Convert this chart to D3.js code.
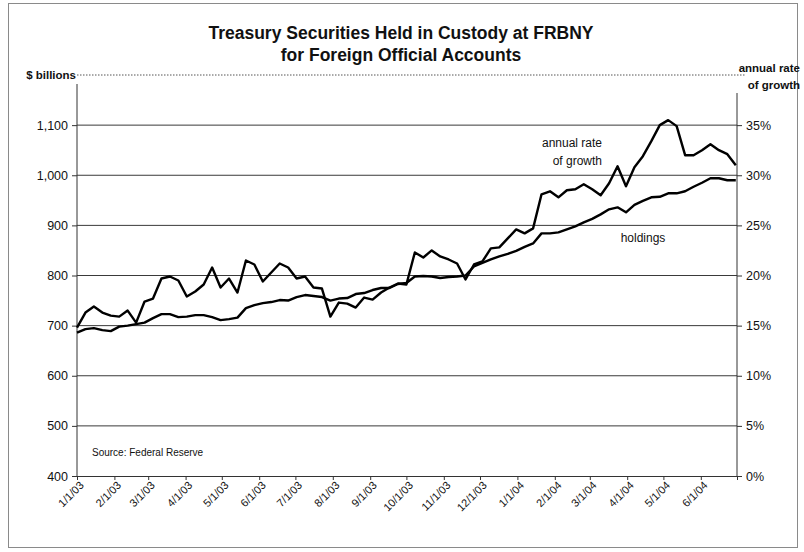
<!DOCTYPE html>
<html>
<head>
<meta charset="utf-8">
<script src="https://cdn.jsdelivr.net/npm/d3@7"></script>
<style>
  html, body { margin: 0; padding: 0; background: #fff; }
  svg { display: block; font-family: "Liberation Sans", Arial, sans-serif; }
</style>
</head>
<body>
<svg id="chart" width="804" height="552"></svg>
<script>
// ---- data ----
const dates = [
  "2003-01-01","2003-01-08","2003-01-15","2003-01-22","2003-01-29",
  "2003-02-05","2003-02-12","2003-02-19","2003-02-26",
  "2003-03-05","2003-03-12","2003-03-19","2003-03-26",
  "2003-04-02","2003-04-09","2003-04-16","2003-04-23","2003-04-30",
  "2003-05-07","2003-05-14","2003-05-21","2003-05-28",
  "2003-06-04","2003-06-11","2003-06-18","2003-06-25",
  "2003-07-02","2003-07-09","2003-07-16","2003-07-23","2003-07-30",
  "2003-08-06","2003-08-13","2003-08-20","2003-08-27",
  "2003-09-03","2003-09-10","2003-09-17","2003-09-24",
  "2003-10-01","2003-10-08","2003-10-15","2003-10-22","2003-10-29",
  "2003-11-05","2003-11-12","2003-11-19","2003-11-26",
  "2003-12-03","2003-12-10","2003-12-17","2003-12-24","2003-12-31",
  "2004-01-07","2004-01-14","2004-01-21","2004-01-28",
  "2004-02-04","2004-02-11","2004-02-18","2004-02-25",
  "2004-03-03","2004-03-10","2004-03-17","2004-03-24","2004-03-31",
  "2004-04-07","2004-04-14","2004-04-21","2004-04-28",
  "2004-05-05","2004-05-12","2004-05-19","2004-05-26",
  "2004-06-02","2004-06-09","2004-06-16","2004-06-23","2004-06-30"
];
// holdings, $ billions (left axis)
const holdings = [
  686,693,695,691,689, 698,700,703,706, 715,723,723,717,
  718,721,721,717,711, 713,716,735,741, 745,747,751,750,
  757,761,759,757,750, 754,755,763,765, 771,775,775,783,
  785,798,799,798,795, 797,798,800,818, 825,832,838,843,849,
  857,864,884,884, 886,892,898,906, 913,922,932,936,926,
  941,949,956,957, 964,964,968,977, 985,994,994,990,990
];
// annual rate of growth, percent (right axis)
const growth = [
  14.8,16.3,16.9,16.3,16.0, 15.9,16.5,15.3,17.4, 17.7,19.7,19.9,19.5,
  17.9,18.4,19.1,20.8,18.8, 19.7,18.3,21.5,21.1, 19.4,20.3,21.2,20.8,
  19.7,19.9,18.8,18.7,15.9, 17.3,17.2,16.8,17.8, 17.6,18.3,18.8,19.2,
  19.1,22.3,21.8,22.5,21.9, 21.6,21.2,19.6,21.1, 21.4,22.7,22.8,23.7,24.6,
  24.2,24.7,28.1,28.4, 27.8,28.5,28.6,29.1, 28.6,28.0,29.2,30.9,28.9,
  30.8,31.9,33.4,35.0, 35.5,34.9,32.0,32.0, 32.5,33.1,32.5,32.1,31.0
];
const leftTicks = [400, 500, 600, 700, 800, 900, 1000, 1100];
const rightTicks = [0, 5, 10, 15, 20, 25, 30, 35];
const xTickLabels = ["1/1/03","2/1/03","3/1/03","4/1/03","5/1/03","6/1/03",
  "7/1/03","8/1/03","9/1/03","10/1/03","11/1/03","12/1/03",
  "1/1/04","2/1/04","3/1/04","4/1/04","5/1/04","6/1/04"];
const xEndLabel = "7/1/04";

const titleLines = ["Treasury Securities Held in Custody at FRBNY", "for Foreign Official Accounts"];

// ---- chart ----
const svg = d3.select("#chart");
const parseISO = d3.timeParse("%Y-%m-%d");
const parseTick = d3.timeParse("%m/%d/%y");
const X0 = 77, X1 = 737, YB = 476, YT = 75;

const x = d3.scaleTime()
  .domain([parseTick(xTickLabels[0]), parseTick(xEndLabel)])
  .range([X0, X1]);
const yL = d3.scaleLinear().domain([400, 1200]).range([YB, YT]);
const yR = d3.scaleLinear().domain([0, 40]).range([YB, YT]);

// outer frame
svg.append("rect").attr("x", 8.5).attr("y", 3.5).attr("width", 789).attr("height", 544)
  .attr("fill", "none").attr("stroke", "#8a8a8a").attr("stroke-width", 1);

// title
svg.append("g").selectAll("text").data(titleLines).join("text")
  .attr("x", 401).attr("y", (d, i) => 39 + i * 22)
  .attr("text-anchor", "middle").attr("font-weight", "bold")
  .attr("font-size", "17.5px").attr("fill", "#111").text(d => d);

// top dotted line
svg.append("line").attr("x1", 77).attr("x2", 745).attr("y1", yL(1200)).attr("y2", yL(1200))
  .attr("stroke", "#555").attr("stroke-width", 1).attr("stroke-dasharray", "1.5,1.5");

// axis titles
svg.append("text").attr("x", 76).attr("y", 79).attr("text-anchor", "end")
  .attr("font-weight", "bold").attr("font-size", "11.5px").attr("fill", "#111").text("$ billions");
svg.append("g").selectAll("text").data(["annual rate", "of growth"]).join("text")
  .attr("x", 800).attr("y", (d, i) => 72 + i * 17).attr("text-anchor", "end")
  .attr("font-weight", "bold").attr("font-size", "11.5px").attr("fill", "#111").text(d => d);

// gridlines
svg.append("g").selectAll("line").data(leftTicks.filter(v => v > 400)).join("line")
  .attr("x1", X0).attr("x2", X1).attr("y1", d => yL(d)).attr("y2", d => yL(d))
  .attr("stroke", "#3a3a3a").attr("stroke-width", 1);

// left axis
const gL = svg.append("g").attr("transform", `translate(${X0},0)`)
  .call(d3.axisLeft(yL).tickValues(leftTicks).tickSize(5).tickPadding(4)
    .tickFormat(d3.format(",")));
gL.select(".domain").remove();
gL.append("line").attr("x1", 0).attr("x2", 0).attr("y1", 84).attr("y2", YB)
  .attr("stroke", "#333").attr("stroke-width", 1);

// right axis
const gR = svg.append("g").attr("transform", `translate(${X1},0)`)
  .call(d3.axisRight(yR).tickValues(rightTicks).tickSize(5).tickPadding(4)
    .tickFormat(d => d + "%"));
gR.select(".domain").remove();
gR.append("line").attr("x1", 0).attr("x2", 0).attr("y1", 93).attr("y2", YB)
  .attr("stroke", "#333").attr("stroke-width", 1);

[gL, gR].forEach(g => {
  g.selectAll(".tick line").attr("stroke", "#333");
  g.selectAll(".tick text").attr("font-size", "12.5px").attr("fill", "#111")
    .attr("font-family", "'Liberation Sans', Arial, sans-serif");
});

// x axis
const xTickDates = xTickLabels.map(parseTick).concat([parseTick(xEndLabel)]);
const gX = svg.append("g").attr("transform", `translate(0,${YB})`)
  .call(d3.axisBottom(x).tickValues(xTickDates).tickSize(4)
    .tickFormat((d, i) => i < xTickLabels.length ? xTickLabels[i] : ""));
gX.select(".domain").attr("stroke", "#333");
gX.selectAll(".tick line").attr("stroke", "#333");
gX.selectAll(".tick text")
  .attr("font-size", "11px").attr("fill", "#111")
  .attr("font-family", "'Liberation Sans', Arial, sans-serif")
  .attr("text-anchor", "end")
  .attr("x", 0).attr("y", 0).attr("dy", null)
  .attr("transform", "translate(7,10) rotate(-45)");

// lines
const pts = dates.map(parseISO);
const lineL = d3.line().x((d, i) => x(pts[i])).y(d => yL(d));
const lineR = d3.line().x((d, i) => x(pts[i])).y(d => yR(d));
svg.append("path").datum(holdings).attr("d", lineL)
  .attr("fill", "none").attr("stroke", "#000").attr("stroke-width", 2.4)
  .attr("stroke-linejoin", "round");
svg.append("path").datum(growth).attr("d", lineR)
  .attr("fill", "none").attr("stroke", "#000").attr("stroke-width", 2.4)
  .attr("stroke-linejoin", "round");

// annotations
svg.append("g").selectAll("text").data(["annual rate", "of growth"]).join("text")
  .attr("x", 602).attr("y", (d, i) => 147 + i * 18).attr("text-anchor", "end")
  .attr("font-size", "12px").attr("fill", "#111").text(d => d);
svg.append("text").attr("x", 643).attr("y", 242).attr("text-anchor", "middle")
  .attr("font-size", "12px").attr("fill", "#111").text("holdings");
svg.append("text").attr("x", 92).attr("y", 456)
  .attr("font-size", "10px").attr("fill", "#111").text("Source: Federal Reserve");
</script>
</body>
</html>
